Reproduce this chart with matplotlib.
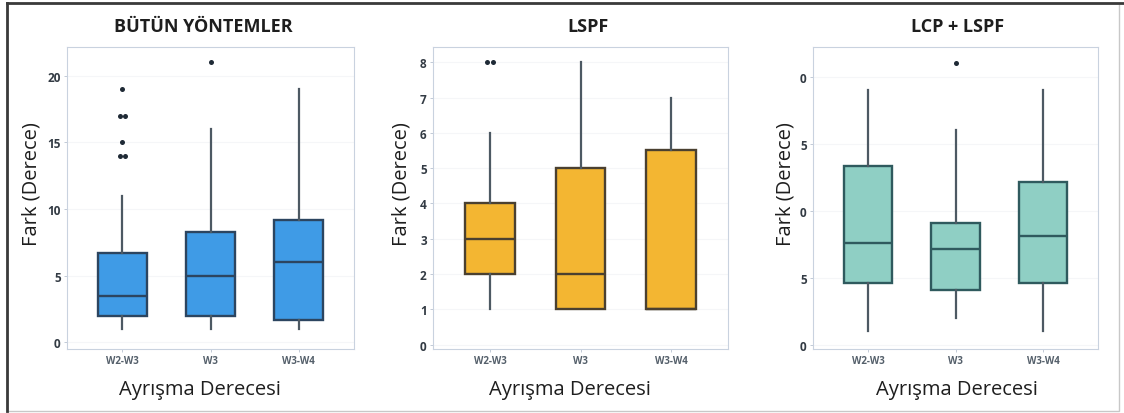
import matplotlib
matplotlib.use("Agg")
import matplotlib.pyplot as plt
from matplotlib.patches import Rectangle
from collections import Counter

plt.rcParams['font.family'] = ['Open Sans', 'DejaVu Sans']

# --- data -------------------------------------------------------------
categories = ["W2-W3", "W3", "W3-W4"]

panel_titles = ["BÜTÜN YÖNTEMLER", "LSPF", "LCP + LSPF"]

# five-number summaries per category (whisker low, Q1, median, Q3, whisker high)
all_whislo = [1, 1, 1]
all_q1 = [2, 2, 1.7]
all_med = [3.5, 5, 6]
all_q3 = [6.7, 8.25, 9.2]
all_whishi = [11, 16, 19]
all_fliers = [[19, 17, 17, 15, 14, 14], [21], []]

lspf_whislo = [1, 1, 1]
lspf_q1 = [2, 1, 1]
lspf_med = [3, 2, 1]
lspf_q3 = [4, 5, 5.5]
lspf_whishi = [6, 8, 7]
lspf_fliers = [[8, 8], [], []]

combo_whislo = [1, 2, 1]
combo_q1 = [4.6, 4.1, 4.6]
combo_med = [7.6, 7.1, 8.1]
combo_q3 = [13.3, 9.1, 12.1]
combo_whishi = [19, 16, 19]
combo_fliers = [[], [21], []]

all_yticks = [0, 5, 10, 15, 20]
lspf_yticks = [0, 1, 2, 3, 4, 5, 6, 7, 8]
combo_yticks = [0, 5, 10, 15, 20]
combo_yticklabels = ["0", "5", "0", "5", "0"]

# --- figure -----------------------------------------------------------
W, H = 1124, 414
fig = plt.figure(figsize=(W / 100, H / 100), dpi=100)

def px_axes(left, top, right, bottom):
    return fig.add_axes([left / W, 1 - bottom / H, (right - left) / W, (bottom - top) / H])

def draw_panel(ax, whislo, q1, med, q3, whishi, fliers, face, edge, ylim, yticks, yticklabels=None):
    stats = []
    for i in range(len(categories)):
        stats.append(dict(label=categories[i], whislo=whislo[i], q1=q1[i], med=med[i],
                          q3=q3[i], whishi=whishi[i], fliers=[]))
    pos = [1, 2, 3]
    ax.bxp(stats, positions=pos, widths=0.55, patch_artist=True, showfliers=False,
           showcaps=False,
           boxprops=dict(facecolor=face, edgecolor=edge, linewidth=1.7),
           medianprops=dict(color=edge, linewidth=1.7),
           whiskerprops=dict(color='#4d5963', linewidth=1.6))
    # outliers; repeated values are spread side by side
    for p, fl in zip(pos, fliers):
        counts = Counter(fl)
        for v, n in counts.items():
            offs = [(k - (n - 1) / 2) * 0.06 for k in range(n)]
            ax.scatter([p + o for o in offs], [v] * n, s=13, color='#1f2a36', zorder=5,
                       linewidths=0)
    ax.set_xlim(0.37, 3.63)
    ax.set_ylim(*ylim)
    ax.set_xticks(pos)
    ax.set_xticklabels(categories, fontsize=7, fontweight='bold', color='#55606b')
    ax.set_yticks(yticks)
    ax.set_yticklabels(yticklabels if yticklabels else [str(t) for t in yticks],
                       fontsize=8.5, fontweight='bold', color='#333b44')
    ax.tick_params(axis='both', length=2.5, width=0.6, color='#b8c2d0', pad=2)
    ax.grid(axis='y', color='#f5f6f8', linewidth=0.8)
    ax.set_axisbelow(True)
    for s in ax.spines.values():
        s.set_color('#c9d2df')
        s.set_linewidth(0.8)

ax1 = px_axes(67, 48, 354, 350)
draw_panel(ax1, all_whislo, all_q1, all_med, all_q3, all_whishi, all_fliers,
           '#3f9be6', '#2c4560', (-0.5, 22.15), all_yticks)

ax2 = px_axes(433, 48, 728, 350)
draw_panel(ax2, lspf_whislo, lspf_q1, lspf_med, lspf_q3, lspf_whishi, lspf_fliers,
           '#f3b632', '#4a4030', (-0.12, 8.43), lspf_yticks)

ax3 = px_axes(813, 48, 1098, 350)
draw_panel(ax3, combo_whislo, combo_q1, combo_med, combo_q3, combo_whishi, combo_fliers,
           '#8fcfc4', '#2f5a5e', (-0.32, 22.2), combo_yticks, combo_yticklabels)

# titles and axis labels
title_x = [203, 588, 958]
ylab_x = [32, 402, 785]
xlab_x = [200, 570, 957]
for t, tx, yx, xx in zip(panel_titles, title_x, ylab_x, xlab_x):
    fig.text(tx / W, 1 - 27 / H, t, ha='center', va='center', fontsize=13,
             fontweight='bold', color='#1e1e1e')
    fig.text(yx / W, 1 - 184 / H, "Fark (Derece)", ha='center', va='center',
             rotation=90, fontsize=14.5, color='#1e1e1e')
    fig.text(xx / W, 1 - 390 / H, "Ayrışma Derecesi", ha='center', va='center',
             fontsize=14.5, color='#1e1e1e')

# outer frame
fig.add_artist(Rectangle((7 / W, 2 / H), (1119 - 7) / W, (410 - 2) / H,
                         transform=fig.transFigure, fill=False,
                         edgecolor='#c8c8c8', linewidth=1.0))
fig.add_artist(plt.Line2D([7 / W, 7 / W], [2 / H, 1 - 4 / H], transform=fig.transFigure,
                          color='#3a3a3a', linewidth=2.0))
fig.add_artist(plt.Line2D([7 / W, 1], [1 - 4 / H, 1 - 4 / H], transform=fig.transFigure,
                          color='#3a3a3a', linewidth=2.0))

fig.savefig("out.png", dpi=100)
